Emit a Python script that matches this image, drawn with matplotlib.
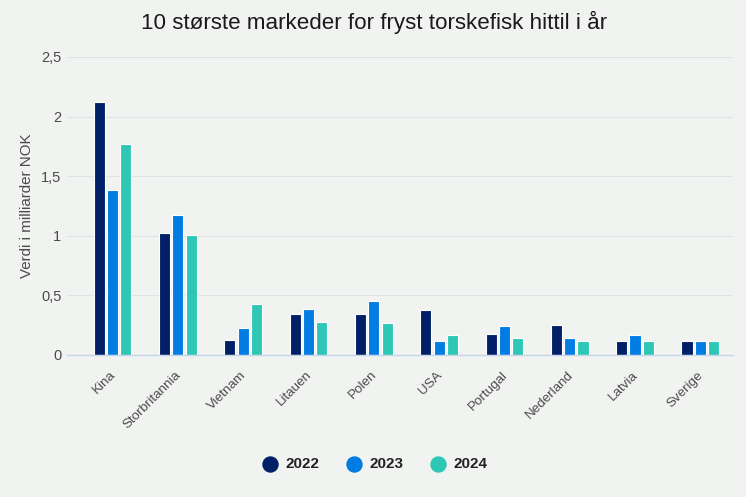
import numpy as np
import matplotlib
matplotlib.use('Agg')
from matplotlib import pyplot as plt
from matplotlib.transforms import ScaledTranslation

plt.rcParams['font.family'] = ['Liberation Sans', 'DejaVu Sans']

markets = ['Kina', 'Storbritannia', 'Vietnam', 'Litauen', 'Polen', 'USA', 'Portugal', 'Nederland', 'Latvia', 'Sverige']
v2022 = [2.125, 1.02, 0.125, 0.345, 0.345, 0.375, 0.175, 0.25, 0.115, 0.115]
v2023 = [1.385, 1.175, 0.23, 0.385, 0.455, 0.115, 0.24, 0.145, 0.165, 0.115]
v2024 = [1.77, 1.005, 0.43, 0.275, 0.265, 0.165, 0.145, 0.115, 0.115, 0.115]
years = ['2022', '2023', '2024']
colors = ['#001f66', '#007ce2', '#2ec7b5']
yticks = [0, 0.5, 1, 1.5, 2, 2.5]
ylabels = ['0', '0,5', '1', '1,5', '2', '2,5']

bg = '#f1f3f1'
fig = plt.figure(figsize=(7.46, 4.97), dpi=100, facecolor=bg)
ax = fig.add_axes([67/746, 1-355/497, (733-67)/746, (355-57)/497], facecolor=bg)

x = np.arange(len(markets))
w = 0.17
for i, vals in enumerate([v2022, v2023, v2024]):
    ax.bar(x + (i-1)*0.204, vals, w, color=colors[i], edgecolor='#ffffff', linewidth=0.8, zorder=3)

ax.set_xlim(-0.697, 9.50)
ax.set_ylim(0, 2.5)
ax.set_yticks(yticks)
ax.set_yticklabels(ylabels, fontsize=10.5, color='#4a4a4a')
ax.set_xticks(x)
ax.set_xticklabels(markets, rotation=45, ha='right', rotation_mode='anchor', fontsize=9.6, color='#4a4a4a')
ax.tick_params(axis='both', length=0)
ax.tick_params(axis='x', pad=10)
ax.tick_params(axis='y', pad=4)
# x labels sit a bit left of the group centre
shift = ScaledTranslation(-2/72, 0, fig.dpi_scale_trans)
for lab in ax.get_xticklabels():
    lab.set_transform(lab.get_transform() + shift)
ax.grid(axis='y', color='#dfe3e3', lw=0.8, zorder=0)
ax.set_axisbelow(True)
for s in ['top', 'right', 'left']:
    ax.spines[s].set_visible(False)
ax.spines['bottom'].set_color('#c5d6ea')
ax.spines['bottom'].set_linewidth(1)
ax.spines['bottom'].set_zorder(4)
fig.text(27.5/746, 1-206/497, 'Verdi i milliarder NOK', rotation=90, ha='center', va='center', fontsize=10.9, color='#4a4a4a')

fig.text(374/746, 1-22/497, '10 største markeder for fryst torskefisk hittil i år', ha='center', va='center', fontsize=16.1, color='#1a1a1a')

# legend drawn by hand so the spacing matches
for xp, yr, c in zip([270, 354, 438], years, colors):
    fig.add_artist(plt.Line2D([xp/746], [1-464/497], marker='o', ms=10.8, color=c, lw=0, transform=fig.transFigure))
    fig.text((xp+16)/746, 1-464.5/497, yr, ha='left', va='center', fontsize=11, fontweight='bold', color='#222222')

fig.savefig('out.png', dpi=100, facecolor=bg)
